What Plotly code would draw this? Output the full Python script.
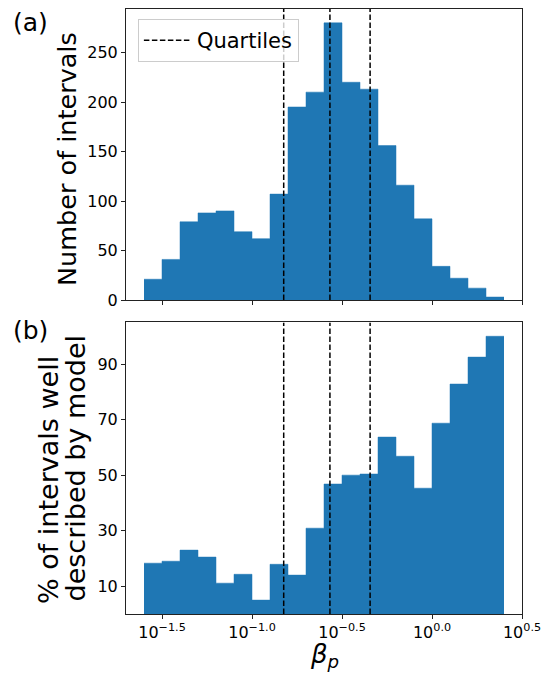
import numpy as np
import plotly.graph_objects as go

# ---- data ----
bin_edges_log10 = [-1.6, -1.5, -1.4, -1.3, -1.2, -1.1, -1.0, -0.9, -0.8, -0.7, -0.6,
                   -0.5, -0.4, -0.3, -0.2, -0.1, 0.0, 0.1, 0.2, 0.3, 0.4]
counts = [21, 41, 79, 88, 90, 69, 62, 107, 195, 210, 280, 220, 213, 156, 116, 82, 34, 22, 12, 3]
pct_well = [18.3, 19.0, 23.0, 20.5, 11.1, 14.3, 5.0, 17.9, 14.0, 30.9, 46.8, 50.0, 50.4,
            63.7, 56.8, 45.3, 68.7, 82.8, 92.5, 100.0]
quartiles = [0.150, 0.271, 0.453]
xtick_log10 = [-1.5, -1.0, -0.5, 0.0, 0.5]
xtick_text = ["10<sup>\u22121.5</sup>", "10<sup>\u22121.0</sup>", "10<sup>\u22120.5</sup>",
              "10<sup>0.0</sup>", "10<sup>0.5</sup>"]
count_ticks = [0, 50, 100, 150, 200, 250]
pct_ticks = [10, 30, 50, 70, 90]
count_range = [0, 294]
pct_range = [0, 105]

BLUE = "#1f77b4"
FONT = "DejaVu Sans"

edges = [10 ** e for e in bin_edges_log10]
xtick_vals = [10 ** e for e in xtick_log10]


def quart_xy(yr):
    xs, ys = [], []
    for q in quartiles:
        xs += [q, q, None]
        ys += [yr[0], yr[1], None]
    return xs, ys


fig = go.Figure()

# top histogram
fig.add_trace(go.Scatter(x=edges, y=counts + [counts[-1]], mode="lines", line_shape="hv",
                         fill="tozeroy", fillcolor=BLUE, line=dict(color=BLUE, width=0.5),
                         showlegend=False, xaxis="x", yaxis="y", hoverinfo="skip"))
qx, qy = quart_xy(count_range)
fig.add_trace(go.Scatter(x=qx, y=qy, mode="lines", name="Quartiles",
                         line=dict(color="black", width=1.5, dash="5.5px,2.5px"),
                         showlegend=True, xaxis="x", yaxis="y"))

# bottom histogram
fig.add_trace(go.Scatter(x=edges, y=pct_well + [pct_well[-1]], mode="lines", line_shape="hv",
                         fill="tozeroy", fillcolor=BLUE, line=dict(color=BLUE, width=0.5),
                         showlegend=False, xaxis="x2", yaxis="y2", hoverinfo="skip"))
qx2, qy2 = quart_xy(pct_range)
fig.add_trace(go.Scatter(x=qx2, y=qy2, mode="lines", name="Quartiles",
                         line=dict(color="black", width=1.5, dash="5.5px,2.5px"),
                         showlegend=False, xaxis="x2", yaxis="y2"))

axis_common = dict(showline=True, mirror=True, linecolor="#222", linewidth=1,
                   ticks="outside", ticklen=4, tickwidth=1, tickcolor="#222",
                   showgrid=False, zeroline=False,
                   tickfont=dict(family=FONT, size=16, color="black"))

xlog = dict(type="log", range=[-1.7, 0.5], tickvals=xtick_vals, ticktext=xtick_text)


def py(ypx):
    # pixel row -> paper fraction (plot area from y=9 to y=614)
    return (614 - ypx) / 605


fig.update_layout(
    width=550, height=673,
    margin=dict(l=126, r=28, t=9, b=59),
    paper_bgcolor="white", plot_bgcolor="white",
    font=dict(family=FONT, color="black"),
    xaxis=dict(**axis_common, **xlog, anchor="y", matches="x2", showticklabels=False),
    yaxis=dict(**axis_common, domain=[0.519, 1.0], range=count_range, tickvals=count_ticks),
    xaxis2=dict(**axis_common, **xlog, anchor="y2"),
    yaxis2=dict(**axis_common, domain=[0.0, 0.482], range=pct_range, tickvals=pct_ticks),
    legend=dict(x=0.03, y=py(19), xanchor="left", yanchor="top", itemwidth=48,
                bgcolor="rgba(255,255,255,0.8)", bordercolor="#cccccc", borderwidth=1,
                font=dict(family=FONT, size=21, color="black")),
    annotations=[
        dict(text="(a)", xref="paper", yref="paper", x=0, y=py(22), xshift=-96,
             showarrow=False, xanchor="center", yanchor="middle",
             font=dict(family=FONT, size=25, color="black")),
        dict(text="(b)", xref="paper", yref="paper", x=0, y=py(330), xshift=-96,
             showarrow=False, xanchor="center", yanchor="middle",
             font=dict(family=FONT, size=25, color="black")),
        dict(text="Number of intervals", xref="paper", yref="paper", x=0,
             y=py(159), xshift=-59, textangle=-90, showarrow=False,
             xanchor="center", yanchor="middle",
             font=dict(family=FONT, size=25.5, color="black")),
        dict(text="% of intervals well", xref="paper", yref="paper",
             x=0, y=py(606), xshift=-78, textangle=-90, showarrow=False,
             xanchor="center", yanchor="bottom",
             font=dict(family=FONT, size=27, color="black")),
        dict(text="described by model", xref="paper", yref="paper",
             x=0, y=py(604), xshift=-51, textangle=-90, showarrow=False,
             xanchor="center", yanchor="bottom",
             font=dict(family=FONT, size=27, color="black")),
        dict(text="<i>\u03b2</i><sub><i>p</i></sub>", xref="paper", yref="paper", x=0.5, y=0,
             yshift=-41, showarrow=False, xanchor="center", yanchor="middle",
             font=dict(family=FONT, size=26, color="black")),
    ],
)

fig.write_html("out.html")
